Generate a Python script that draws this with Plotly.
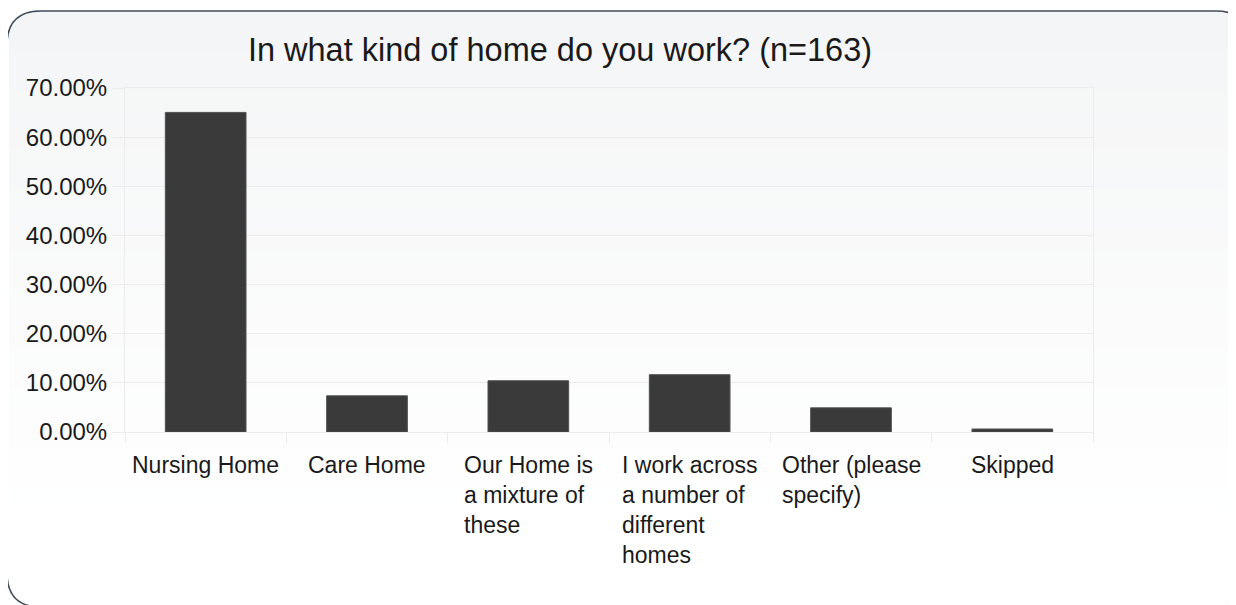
import plotly.graph_objects as go

categories = ["Nursing Home", "Care Home", "Our Home is a mixture of these",
              "I work across a number of different homes", "Other (please specify)", "Skipped"]
label_lines = ["Nursing Home", "Care Home", "Our Home is<br>a mixture of<br>these",
               "I work across<br>a number of<br>different<br>homes", "Other (please<br>specify)", "Skipped"]
percent_values = [65.03, 7.36, 10.43, 11.66, 4.91, 0.61]
y_ticks = [0, 10, 20, 30, 40, 50, 60, 70]
y_tick_labels = ["0.00%", "10.00%", "20.00%", "30.00%", "40.00%", "50.00%", "60.00%", "70.00%"]
title_text = "In what kind of home do you work? (n=163)"

OFF = 8  # page body margin
W, H = 1236 - OFF, 605 - OFF
PL, PR, PT, PB = 125, 1093, 88, 432  # plot area in page pixels
L, T = PL - OFF, PT - OFF
PW, PH = PR - PL, PB - PT
R, B = W - L - PW, H - T - PH


def px(X):
    return (X - PL) / PW


def py(Y):
    return (PB - Y) / PH


FONT = "Liberation Sans, Arial, Helvetica, sans-serif"

fig = go.Figure()
fig.add_trace(go.Bar(
    x=categories, y=percent_values,
    marker=dict(color="#3a3a3a", line=dict(color="#505050", width=1)),
    hoverinfo="x+y",
))

shapes = []
x0, x1, y0, y1, r = 7, 1250, 11, 607, 34
n_bands = 30
for i in range(n_bands):
    ya = y0 + (y1 - y0) * i / n_bands
    yb = y0 + (y1 - y0) * (i + 1) / n_bands
    t = i / (n_bands - 1)
    c0 = (244, 245, 246)
    c1 = (255, 255, 255)
    tt = min(1.0, t * 1.15)
    col = tuple(round(c0[k] + (c1[k] - c0[k]) * tt) for k in range(3))
    shapes.append(dict(type="rect", xref="paper", yref="paper", layer="below",
                       x0=px(x0 + 2), x1=px(x1), y0=py(ya), y1=py(yb + 1),
                       fillcolor="rgb(%d,%d,%d)" % col, line=dict(width=0)))

path = (
    f"M {px(x0)},{py(y0 + r)} "
    f"Q {px(x0)},{py(y0)} {px(x0 + r)},{py(y0)} "
    f"L {px(x1 - r)},{py(y0)} "
    f"Q {px(x1)},{py(y0)} {px(x1)},{py(y0 + r)} "
    f"L {px(x1)},{py(y1 - r)} "
    f"Q {px(x1)},{py(y1)} {px(x1 - r)},{py(y1)} "
    f"L {px(x0 + r)},{py(y1)} "
    f"Q {px(x0)},{py(y1)} {px(x0)},{py(y1 - r)} Z"
)
shapes.append(dict(type="path", xref="paper", yref="paper", layer="below",
                   path=(f"M {px(0)},{py(0)} L {px(x0 + r)},{py(0)} L {px(x0 + r)},{py(y0)} "
                         f"Q {px(x0)},{py(y0)} {px(x0)},{py(y0 + r)} L {px(0)},{py(y0 + r)} Z"),
                   fillcolor="white", line=dict(width=0)))
shapes.append(dict(type="path", xref="paper", yref="paper", layer="below",
                   path=(f"M {px(x1 - r)},{py(0)} L {px(1300)},{py(0)} L {px(1300)},{py(y0 + r)} "
                         f"L {px(x1)},{py(y0 + r)} Q {px(x1)},{py(y0)} {px(x1 - r)},{py(y0)} Z"),
                   fillcolor="white", line=dict(width=0)))
shapes.append(dict(type="path", xref="paper", yref="paper", layer="below",
                   path=(f"M {px(0)},{py(y1 - r)} L {px(x0)},{py(y1 - r)} "
                         f"Q {px(x0)},{py(y1)} {px(x0 + r)},{py(y1)} L {px(x0 + r)},{py(620)} L {px(0)},{py(620)} Z"),
                   fillcolor="white", line=dict(width=0)))
shapes.append(dict(type="path", xref="paper", yref="paper", layer="above",
                   path=path, fillcolor="rgba(0,0,0,0)",
                   line=dict(color="#3f4d59", width=1.6)))

annotations = []
for cat, lab in zip(categories, label_lines):
    annotations.append(dict(
        x=cat, xref="x", y=py(450), yref="paper", yanchor="top", xanchor="center",
        text=lab, align="left", showarrow=False,
        font=dict(family=FONT, size=23, color="#1a1a1a"),
    ))

fig.update_layout(
    width=W, height=H,
    margin=dict(l=L, r=R, t=T, b=B, pad=0),
    paper_bgcolor="white",
    plot_bgcolor="rgba(0,0,0,0)",
    bargap=0.5,
    showlegend=False,
    shapes=shapes,
    annotations=annotations,
    title=dict(text=title_text, x=(560 - OFF) / W, xanchor="center", xref="container",
               y=1 - (50 - OFF) / H, yanchor="middle", yref="container",
               font=dict(family=FONT, size=32.5, color="#1a1a1a")),
    xaxis=dict(
        showticklabels=False, showgrid=False, zeroline=False,
        ticks="outside", tickson="boundaries", ticklen=10, tickcolor="#ececec",
        showline=True, linecolor="#ececec", linewidth=1, mirror=True,
        range=[-0.5, 5.5],
    ),
    yaxis=dict(
        range=[0, 70], tickmode="array", tickvals=y_ticks, ticktext=y_tick_labels,
        showgrid=True, gridcolor="#ececec", gridwidth=1,
        zeroline=False,
        ticks="outside", ticklen=12, tickcolor="#ececec",
        showline=True, linecolor="#ececec", linewidth=1, mirror=True,
        tickfont=dict(family=FONT, size=24, color="#1a1a1a"),
    ),
)

fig.write_html("out.html")
